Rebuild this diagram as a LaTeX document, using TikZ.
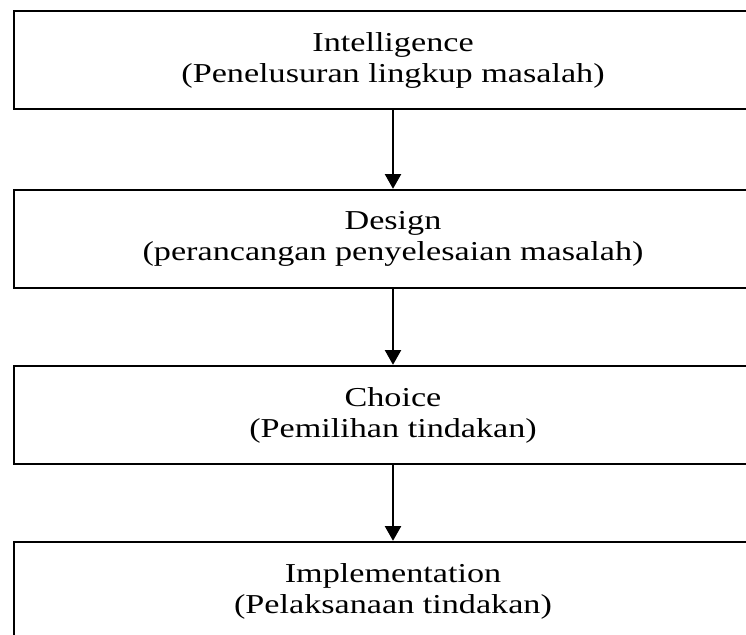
\documentclass[tikz,border=0pt]{standalone}
\usepackage{fontspec}
\setmainfont{Liberation Serif}
\usepackage{graphicx}
\usetikzlibrary{arrows.meta}
% the reference text is stretched sideways
\newcommand{\widetxt}[1]{\scalebox{1.25}[1]{#1}}

\begin{document}
\begin{tikzpicture}[x=0.75pt,y=-0.75pt,
  phasebox/.style={draw, line width=1.8pt, minimum width=758*0.75pt, minimum height=98*0.75pt,
    align=center, inner sep=0pt, font=\fontsize{20.5}{23.25}\selectfont},
  flow/.style={-{Triangle[width=12pt,length=11pt]}, line width=1.5pt}]
\useasboundingbox (0,0) rectangle (746,635);
\node[phasebox] (intel) at (393,60) {\widetxt{Intelligence}\\\widetxt{(Penelusuran lingkup masalah)}};
\node[phasebox] (design) at (393,239) {\widetxt{Design}\\\widetxt{(perancangan penyelesaian masalah)}};
\node[phasebox] (choice) at (393,415) {\widetxt{Choice}\\\widetxt{(Pemilihan tindakan)}};
\node[phasebox] (impl) at (393,591) {\widetxt{Implementation}\\\widetxt{(Pelaksanaan tindakan)}};
\draw[flow] (intel) -- (design);
\draw[flow] (design) -- (choice);
\draw[flow] (choice) -- (impl);
\end{tikzpicture}
\end{document}
